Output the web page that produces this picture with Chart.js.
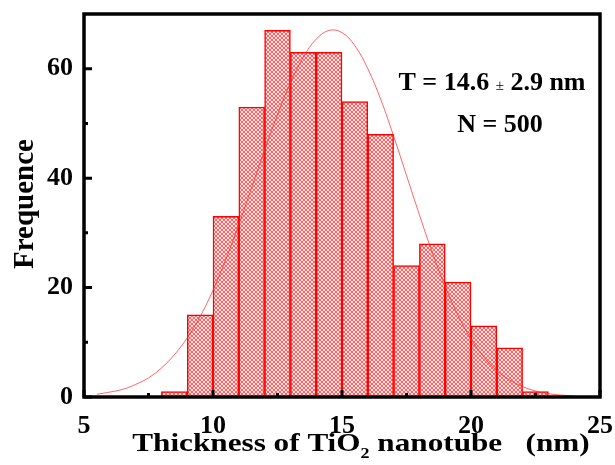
<!DOCTYPE html>
<html>
<head>
<meta charset="utf-8">
<script src="https://cdn.jsdelivr.net/npm/chart.js@4.4.0/dist/chart.umd.min.js"></script>
<style>
  html, body { margin: 0; padding: 0; background: #fff; }
</style>
</head>
<body>
<canvas id="grafico" width="615" height="465"></canvas>
<script>
// histogram: bin centres (nm) and counts
var binCentres = [8.5, 9.5, 10.5, 11.5, 12.5, 13.5, 14.5, 15.5, 16.5, 17.5, 18.5, 19.5, 20.5, 21.5, 22.5];
var counts = [1, 15, 33, 53, 67, 63, 63, 54, 48, 24, 28, 21, 13, 9, 1];

// gaussian fit line
var fitX = [5.5, 6, 6.5, 7, 7.5, 8, 8.5, 9, 9.5, 10, 10.5, 11, 11.5, 12, 12.5, 13, 13.5, 14, 14.5,
            15, 15.5, 16, 16.5, 17, 17.5, 18, 18.5, 19, 19.5, 20, 20.5, 21, 21.5, 22, 22.5, 23, 23.5, 24];
var fitY = [0.5, 0.9, 1.4, 2.3, 3.5, 5.3, 7.7, 10.8, 14.7, 19.5, 25.2, 31.5, 38.3, 45.1, 51.6, 57.4, 62.1, 65.4, 67.0,
            66.6, 64.2, 60.0, 54.4, 47.7, 40.5, 33.3, 26.4, 20.2, 14.9, 10.6, 7.3, 4.8, 3.1, 1.9, 1.1, 0.6, 0.35, 0.2];

var xTicks = [5, 10, 15, 20, 25];
var xMinorTicks = [7.5, 12.5, 17.5, 22.5];
var yTicks = [0, 20, 40, 60];
var yMinorTicks = [10, 30, 50];

var FONTE = '"Liberation Serif", "Times New Roman", serif';

var criarHachura = function () {
    var p = document.createElement('canvas');
    p.width = 4; p.height = 4;
    var c = p.getContext('2d');
    c.fillStyle = '#ffe2e2';
    c.fillRect(0, 0, 4, 4);
    c.strokeStyle = 'rgba(255,30,30,0.65)';
    c.lineWidth = 1;
    c.beginPath();
    c.moveTo(0, 0); c.lineTo(4, 4);
    c.moveTo(4, 0); c.lineTo(0, 4);
    c.stroke();
    return document.getElementById('grafico').getContext('2d').createPattern(p, 'repeat');
};

var desenharPartes = function (ctx, partes, cx, base, esticar) {
    var total = 0;
    partes.forEach(function (p) { ctx.font = p.f; p.w = ctx.measureText(p.t).width; total += p.w; });
    ctx.save();
    ctx.translate(cx, base);
    ctx.scale(esticar || 1, 1);
    var x = -total / 2;
    ctx.textAlign = 'left';
    partes.forEach(function (p) {
        ctx.font = p.f;
        ctx.fillText(p.t, x, p.dy);
        x += p.w;
    });
    ctx.restore();
};

// frame + inward ticks + titles + annotation
var moldura = {
    id: 'moldura',
    afterDatasetsDraw: function (chart) {
        var ctx = chart.ctx;
        var a = chart.chartArea;
        var sx = chart.scales.x, sy = chart.scales.y;
        ctx.save();
        ctx.strokeStyle = '#000';
        ctx.lineWidth = 3.5;
        ctx.strokeRect(a.left, a.top, a.right - a.left, a.bottom - a.top);

        ctx.lineWidth = 3;
        ctx.beginPath();
        xTicks.forEach(function (v) {
            var px = sx.getPixelForValue(v);
            ctx.moveTo(px, a.bottom); ctx.lineTo(px, a.bottom - 7);
        });
        xMinorTicks.forEach(function (v) {
            var px = sx.getPixelForValue(v);
            ctx.moveTo(px, a.bottom); ctx.lineTo(px, a.bottom - 4);
        });
        yTicks.forEach(function (v) {
            var py = sy.getPixelForValue(v);
            ctx.moveTo(a.left, py); ctx.lineTo(a.left + 8, py);
        });
        yMinorTicks.forEach(function (v) {
            var py = sy.getPixelForValue(v);
            ctx.moveTo(a.left, py); ctx.lineTo(a.left + 4, py);
        });
        ctx.stroke();

        ctx.fillStyle = '#000';
        ctx.textBaseline = 'alphabetic';

        // y title
        ctx.save();
        ctx.translate(33, 204);
        ctx.rotate(-Math.PI / 2);
        ctx.textAlign = 'center';
        ctx.font = 'bold 29px ' + FONTE;
        ctx.fillText('Frequence', 0, 0);
        ctx.restore();

        // x title with subscript
        var partes = [
            { t: 'Thickness of TiO', f: 'bold 26px ' + FONTE, dy: 0 },
            { t: '2', f: 'bold 15px ' + FONTE, dy: 7 },
            { t: ' nanotube   (nm)', f: 'bold 26px ' + FONTE, dy: 0 }
        ];
        desenharPartes(ctx, partes, 361, 451, 1.2);

        // annotation
        var nota = [
            { t: 'T = 14.6 ', f: 'bold 26px ' + FONTE, dy: 0 },
            { t: '\u00b1', f: '15px ' + FONTE, dy: 0 },
            { t: ' 2.9 nm', f: 'bold 26px ' + FONTE, dy: 0 }
        ];
        desenharPartes(ctx, nota, 492, 90);
        desenharPartes(ctx, [{ t: 'N = 500', f: 'bold 26px ' + FONTE, dy: 0 }], 500, 132);
        ctx.restore();
    }
};

var barras = binCentres.map(function (x, i) { return { x: x, y: counts[i] }; });
var ajuste = fitX.map(function (x, i) { return { x: x, y: fitY[i] }; });

var configGrafico = {
    type: 'bar',
    data: {
        datasets: [{
            type: 'line',
            data: ajuste,
            borderColor: 'rgba(255,40,40,0.9)',
            borderWidth: 0.8,
            pointRadius: 0,
            tension: 0.4,
            fill: false,
            order: 0
        }, {
            type: 'bar',
            data: barras,
            backgroundColor: criarHachura(),
            borderColor: '#ff0000',
            borderWidth: 1.5,
            barPercentage: 1,
            categoryPercentage: 1,
            order: 1
        }]
    },
    options: {
        responsive: false,
        animation: false,
        events: [],
        layout: { padding: { top: 14, right: 15, left: 0, bottom: 0 } },
        plugins: { legend: { display: false }, tooltip: { enabled: false } },
        scales: {
            x: {
                type: 'linear',
                min: 5,
                max: 25,
                offset: false,
                grid: { display: false, drawTicks: false, offset: false },
                border: { display: false },
                afterBuildTicks: function (s) { s.ticks = xTicks.map(function (v) { return { value: v }; }); },
                afterFit: function (s) { s.height = 68; s.paddingLeft = 0; s.paddingRight = 0; },
                ticks: {
                    padding: 14,
                    color: '#000',
                    font: { family: FONTE, size: 26, weight: 'bold' }
                }
            },
            y: {
                min: 0,
                max: 70,
                grid: { display: false, drawTicks: false },
                border: { display: false },
                afterBuildTicks: function (s) { s.ticks = yTicks.map(function (v) { return { value: v }; }); },
                afterFit: function (s) { s.width = 84; s.paddingTop = 0; s.paddingBottom = 0; },
                ticks: {
                    padding: 11,
                    color: '#000',
                    font: { family: FONTE, size: 26, weight: 'bold' }
                }
            }
        }
    },
    plugins: [moldura]
};

new Chart(document.getElementById('grafico').getContext('2d'), configGrafico);
</script>
</body>
</html>
